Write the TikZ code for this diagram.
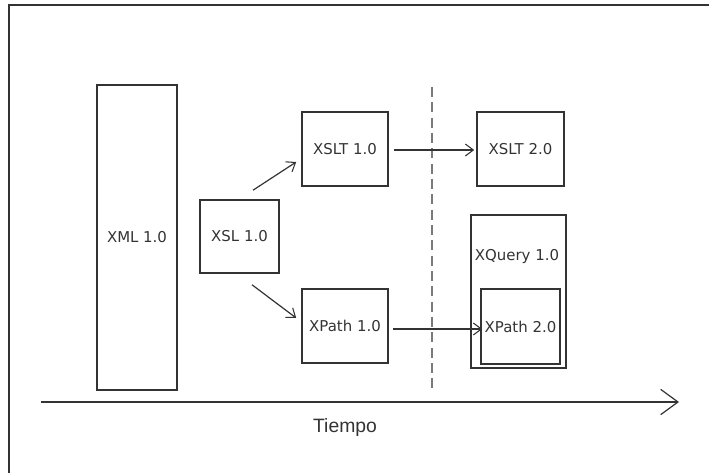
\documentclass[tikz,border=0pt]{standalone}
\usepackage{fontspec}
\setmainfont{DejaVu Sans}
\newfontfamily\axisfont{Liberation Sans}
\usetikzlibrary{arrows.meta,calc}
\definecolor{ln}{HTML}{333333}
\definecolor{dsh}{HTML}{7A7A7A}
\tikzset{
  lbl/.style={font=\fontsize{11.2}{13}\selectfont, text=ln},
  box/.style={draw=ln, line width=1.2pt, inner sep=0pt, lbl},
  conn/.style={draw=ln, line width=0.9pt, -{Straight Barb[length=6pt,width=9pt,line width=0.8pt]}},
}
\begin{document}
\begin{tikzpicture}[x=0.75pt,y=-0.75pt]
\useasboundingbox (0,0) rectangle (709,473);
% frame
\coordinate (fl) at (9,473);
\coordinate (ftl) at (9,5);
\coordinate (ftr) at (709,5);
\draw[ln, line width=1.3pt] (fl) -- (ftl) -- (ftr);
% boxes
\node[box, minimum width=60pt, minimum height=228.75pt] (xml) at (137,237.5) {XML 1.0};
\node[box, minimum width=59.25pt, minimum height=54.75pt] (xsl) at (239.5,236.5) {XSL 1.0};
\node[box, minimum width=64.5pt, minimum height=55.5pt] (xslt1) at (345,149) {XSLT 1.0};
\node[box, minimum width=64.5pt, minimum height=55.5pt] (xpath1) at (345,326) {XPath 1.0};
\node[box, minimum width=65.25pt, minimum height=55.5pt] (xslt2) at (520.5,149) {XSLT 2.0};
\node[box, minimum width=71.25pt, minimum height=114.75pt] (xquery) at (518.5,291.5) {};
\node[lbl] (xqlabel) at (517,257) {XQuery 1.0};
\node[box, minimum width=59.25pt, minimum height=56.25pt] (xpath2) at (520.5,326.5) {XPath 2.0};
% dashed separator
\coordinate (d1) at (432,87);
\coordinate (d2) at (432,388);
\draw[dsh, line width=1.5pt, dash pattern=on 7.5pt off 4pt] (d1) -- (d2);
% connectors
\draw[conn] ($(xsl.north)+(13.5,-9)$) -- ($(xslt1.west)+(-5,13)$);
\draw[conn] ($(xsl.south)+(12.5,11)$) -- ($(xpath1.west)+(-5,-8)$);
\draw[conn] ($(xslt1.east)+(5,1)$) -- ($(xslt2.west)+(-2,1)$);
\draw[conn] ($(xpath1.east)+(4,3)$) -- ($(xpath2.west)+(2,2.5)$);
% time axis
\coordinate (t0) at (41,402);
\coordinate (t1) at (679,402);
\draw[ln, line width=1.2pt, -{Straight Barb[length=13pt,width=19pt,line width=0.9pt]}] (t0) -- (t1);
\node[font=\axisfont\fontsize{14.5}{17}\selectfont, text=ln] (tiempo) at (345,427) {Tiempo};
\end{tikzpicture}
\end{document}
